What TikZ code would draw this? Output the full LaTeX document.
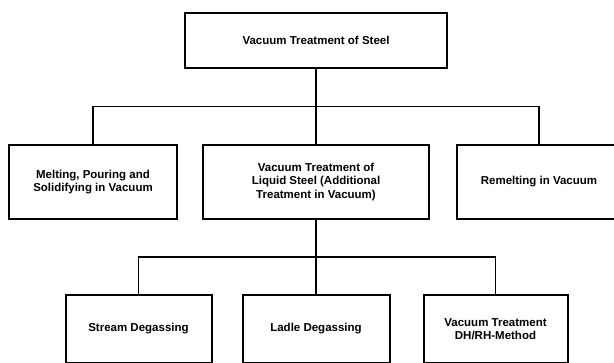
\documentclass[tikz,border=0pt]{standalone}
\usepackage{fontspec}
\setmainfont{Liberation Sans}
\usepackage{tikz}
\usetikzlibrary{shapes.geometric, arrows, calc, positioning}
\tikzstyle{block} = [rectangle, line width=2pt, minimum height=74pt, text centered, align=center, draw=black, font=\fontsize{11.5}{13.3}\selectfont\bfseries]
\tikzstyle{link} = [line width=1.8pt]

\begin{document}
\begin{tikzpicture}[node distance = 24pt, x=1pt, y=1pt]
	\useasboundingbox (0,0) rectangle (614,362);
	\clip (0,0) rectangle (614,362);
	\node (VacuumSteel) [block, minimum width=262pt, minimum height=55pt] at (316,321.5) {Vacuum Treatment of Steel};
	\node (LiquidSteel) [block, minimum width=226pt, below = 75pt of VacuumSteel] {Vacuum Treatment of\\Liquid Steel (Additional\\Treatment in Vacuum)};
	\node (Melting) [block, minimum width=168pt, left = of LiquidSteel] {Melting, Pouring and\\Solidifying in Vacuum};
	\node (Remelting) [block, minimum width=164pt, right = 26pt of LiquidSteel] {Remelting in Vacuum};
	\node (Ladle) [block, minimum width=147pt, minimum height=68pt, below = 74pt of LiquidSteel] {Ladle Degassing};
	\node (Stream) [block, minimum width=146pt, minimum height=68pt, left = 29pt of Ladle] {Stream Degassing};
	\node (DHRH) [block, minimum width=144pt, minimum height=68pt, right = 32pt of Ladle] {Vacuum Treatment\\DH/RH-Method};
	\coordinate (Branch1) at ($(VacuumSteel.south)!0.5!(LiquidSteel.north)$);
	\coordinate (Branch2) at ($(LiquidSteel.south)!0.5!(Ladle.north)$);
	\draw [link] (VacuumSteel) -- (LiquidSteel);
	\draw [link] (Melting.north) |- (Branch1) -| (Remelting.north);
	\draw [link] (LiquidSteel) -- (Ladle);
	\draw [link] (Stream.north) |- (Branch2) -| (DHRH.north);
\end{tikzpicture}
\end{document}
